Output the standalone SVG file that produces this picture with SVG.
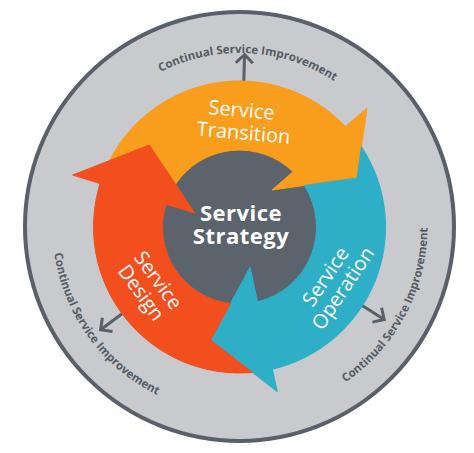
<svg xmlns="http://www.w3.org/2000/svg" width="474" height="453" viewBox="0 0 474 453">
<style>
.ring{fill:#c8cacd;stroke:#59606a;stroke-width:4}
.csi{font-family:"Open Sans","Noto Sans",sans-serif;font-weight:700;font-size:11.5px;fill:#545b64}
.conn{stroke:#59606a;stroke-width:3;fill:none;marker-end:url(#chev)}
.lbl{font-family:"Open Sans","Noto Sans",sans-serif;font-size:20px;fill:#ffffff;text-anchor:middle}
.core{font-weight:700;font-size:22px;letter-spacing:0.5px}
.orange{fill:#f89d1c;stroke:#f89d1c;stroke-width:1;stroke-linejoin:round}
.red{fill:#f24e1e;stroke:#f24e1e;stroke-width:1;stroke-linejoin:round}
.blue{fill:#2faec8;stroke:#2faec8;stroke-width:1;stroke-linejoin:round}
.hub{fill:#5b636c}
</style>
<defs>
<marker id="chev" markerUnits="userSpaceOnUse" viewBox="-12 -12 16 24" markerWidth="16" markerHeight="24" refX="0" refY="0" orient="auto">
<path d="M-8.5,-8.5 L0,0 L-8.5,8.5" fill="none" stroke="#59606a" stroke-width="3"/>
</marker>
<path id="arcTop" d="M93.6,132.2 A174,174 0 0 1 394.5,148"/>
<path id="arcLeft" d="M68.7,150.9 A187,187 0 0 0 259,413"/>
<path id="arcRight" d="M246.1,414.9 A188,188 0 0 0 398.9,127.4"/>
</defs>
<rect width="474" height="453" fill="#ffffff"/>
<g id="continual-service-improvement">
<circle class="ring" cx="239.5" cy="226.5" r="214.5"/>
<text class="csi"><textPath href="#arcTop" startOffset="50%" text-anchor="middle">Continual Service Improvement</textPath></text>
<text class="csi"><textPath href="#arcLeft" startOffset="50%" text-anchor="middle">Continual Service Improvement</textPath></text>
<text class="csi"><textPath href="#arcRight" startOffset="50%" text-anchor="middle">Continual Service Improvement</textPath></text>
</g>
<g id="connectors">
<line class="conn" x1="243.8" y1="81.1" x2="244.6" y2="54.5"/>
<line class="conn" x1="122.1" y1="313.8" x2="100.6" y2="329.7"/>
<line class="conn" x1="362.5" y1="305.7" x2="384.2" y2="319.5"/>
</g>
<g id="service-strategy-hub">
<circle class="hub" cx="239.5" cy="227" r="78"/>
</g>
<g id="service-transition">
<path class="orange" d="M109.5,160.6 A146,146 0 0 1 345.5,126.6 L367,108 L357,178 L272,190 L293.1,171.8 A77,77 0 0 0 175.5,184.2 L149.3,145 Z"/>
<text class="lbl" transform="translate(242,128) rotate(5)"><tspan x="-2" y="-11">Service</tspan><tspan x="2" y="11.5">Transition</tspan></text>
</g>
<g id="service-operation">
<path class="blue" d="M361.5,146.7 A146,146 0 0 1 272.4,369.2 L277.3,391.7 L210.7,340 L250,267.3 L257.6,301.8 A77,77 0 0 0 304.3,185.4 L357,178 Z"/>
<text class="lbl" transform="translate(335,283) rotate(-56)"><tspan x="0" y="-4.5">Service</tspan><tspan x="0" y="16.5">Operation</tspan></text>
</g>
<g id="service-design">
<path class="red" d="M252.5,372.4 A146,146 0 0 1 100.1,183.6 L72.7,175 L149.3,145 L195,213.3 L166,204.2 A77,77 0 0 0 230.4,303.5 L210.7,340 Z"/>
<text class="lbl" transform="translate(149,287) rotate(54)"><tspan x="0" y="-4.5">Service</tspan><tspan x="0" y="16.5">Design</tspan></text>
</g>
<g id="service-strategy">
<text class="lbl core"><tspan x="241" y="220.5">Service</tspan><tspan x="241" y="243.5">Strategy</tspan></text>
</g>
</svg>
